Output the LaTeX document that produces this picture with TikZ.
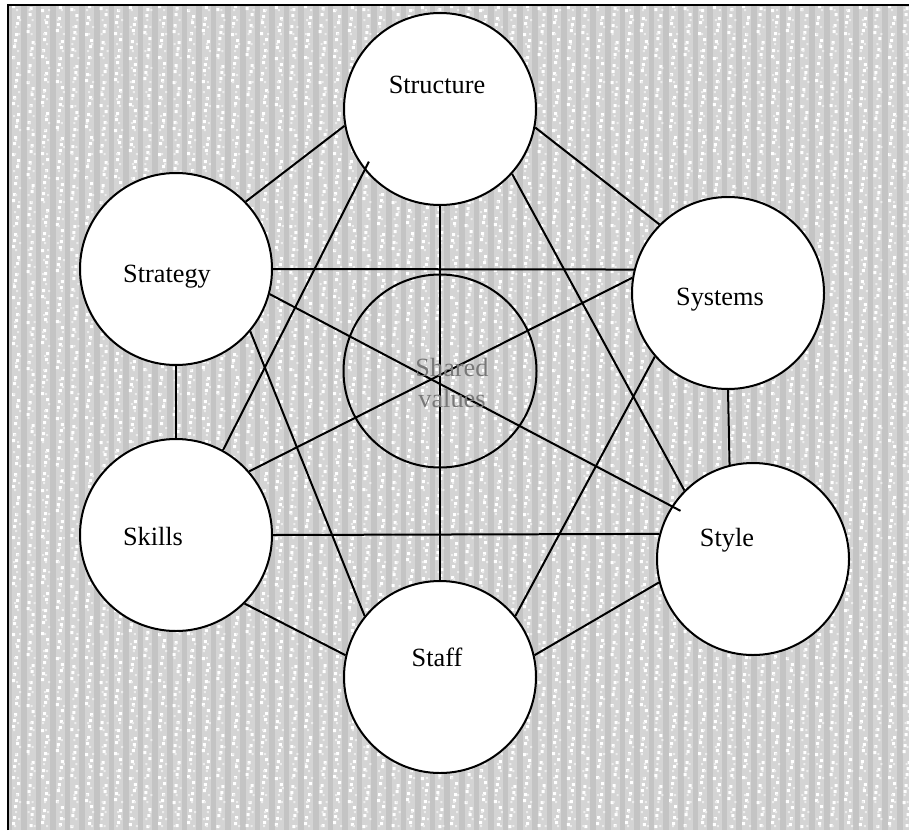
\documentclass[tikz,border=0pt]{standalone}
\usepackage{fontspec}
\setmainfont{Liberation Serif}
\usetikzlibrary{calc}
\definecolor{bgbase}{RGB}{196,196,196}
\definecolor{bglight}{RGB}{212,212,212}
\definecolor{bgspeck}{RGB}{236,236,236}
\definecolor{sharedtext}{RGB}{120,120,120}
\tikzset{
  bubble/.style={circle, draw=black, fill=white, line width=1pt, minimum size=96pt, inner sep=0pt},
  centrebubble/.style={circle, draw=black, line width=1pt, minimum size=96.5pt, inner sep=0pt},
  label7s/.style={font=\fontsize{13.15}{15.5}\selectfont, inner sep=0pt, anchor=base},
  link/.style={draw=black, line width=1pt},
}
\begin{document}
\begin{tikzpicture}[x=0.5pt,y=-0.5pt]
\useasboundingbox (0,0) rectangle (909,830);
% background texture
\fill[bgbase] (7.5,4.5) rectangle (909,830);
\foreach \i in {0,...,61} {
  \pgfmathsetmacro\xo{8+\i*14.6}
  \fill[bglight] (\xo+4,4.5) rectangle (\xo+13,830);
  \fill[white] \foreach \j [evaluate=\j as \xa using {\xo+4+mod(\i*3+\j*5,6)},
                           evaluate=\j as \ya using {5+\j*8+mod(\i*7+\j*3,5)}] in {0,...,102}
     { (\xa,\ya) rectangle ++(3,3) };
  \fill[bgspeck] \foreach \j [evaluate=\j as \xb using {\xo+5+mod(\i*5+\j*3+3,7)},
                           evaluate=\j as \yb using {9+\j*8+mod(\i*3+\j*5,3)}] in {0,...,102}
     { (\xb,\yb) rectangle ++(2,2) };
}
\draw[line width=1pt] (7.5,830) -- (7.5,4.5) -- (909,4.5);
% circles
\node[centrebubble] (shared) at (440,371) {};
\node[bubble] (struct) at (440,109) {};
\node[bubble] (strat)  at (176,269) {};
\node[bubble] (syst)   at (728,293) {};
\node[bubble] (skills) at (176,535) {};
\node[bubble] (style)  at (753,559) {};
\node[bubble] (staff)  at (440,677) {};
% connectors
\draw[link] (strat.44) -- (struct.190);
\draw[link] (struct.-11) -- (syst.135);
\draw[link] (strat.270) -- (skills.90);
\draw[link] (syst.270) -- (style.104.5);
\draw[link] (skills.315) -- (staff.167);
\draw[link] (style.194) -- (staff.13);
\draw[link] (strat.0) -- (syst.166);
\draw[link] (skills.0) -- (style.165.5);
\draw[link] (struct.270) -- (staff.90);
\draw[link] (skills.61) -- ($(skills.61)!1.03!(struct.219)$);
\draw[link] (struct.318) -- (style.135);
\draw[link] (strat.-15) -- ($(strat.-15)!1.022!(style.147)$);
\draw[link] (syst.171) -- (skills.41);
\draw[link] (strat.320) -- (staff.141);
\draw[link] (syst.221) -- (staff.39);
% texts
\node[label7s] (tstruct) at (437,93) {Structure};
\node[label7s] (tstrat)  at (167,282) {Strategy};
\node[label7s] (tsyst)   at (720,305) {Systems};
\node[label7s] (tskills) at (153,545) {Skills};
\node[label7s] (tstyle)  at (727,546) {Style};
\node[label7s] (tstaff)  at (437,666) {Staff};
\node[label7s, align=center, text=sharedtext] (tshared) at (452,407) {Shared\\values};
\end{tikzpicture}
\end{document}
